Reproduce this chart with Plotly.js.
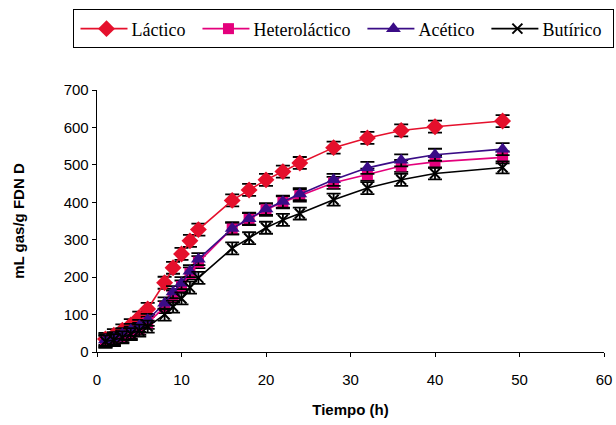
<!DOCTYPE html>
<html><head><meta charset="utf-8">
<script src="https://cdn.plot.ly/plotly-3.0.1.min.js"></script>
<style>body{margin:0;padding:0;background:#fff}#chart{width:616px;height:425px}</style>
</head><body><div id="chart"></div>
<script>
const tiempo = [1, 2, 3, 4, 5, 6, 8, 9, 10, 11, 12, 16, 18, 20, 22, 24, 28, 32, 36, 40, 48];
const lactico = [35, 45, 58, 72, 92, 115, 185, 225, 262, 297, 327, 405, 433, 460, 482, 505, 546, 572, 592, 602, 617];
const heterolactico = [28, 33, 42, 52, 62, 78, 120, 148, 175, 210, 240, 330, 355, 380, 400, 418, 452, 474, 497, 508, 520];
const acetico = [32, 37, 48, 59, 70, 86, 130, 160, 184, 216, 248, 330, 356, 382, 402, 422, 460, 492, 512, 527, 542];
const butirico = [28, 32, 39, 48, 57, 68, 100, 121, 143, 172, 198, 277, 304, 332, 353, 370, 407, 438, 460, 477, 493];
const errorSD = 16;
const names = ["Láctico", "Heterol\u00e1ctico", "Acético", "Butírico"];

const colors = ["#E5102C", "#E4007C", "#3A0C86", "#000000"];
const symbols = ["diamond", "square", "triangle-up", "x-thin-open"];
const sizes = [13, 11, 13, 10];
const series = [lactico, heterolactico, acetico, butirico];

const traces = series.map((ys, i) => ({
  x: tiempo, y: ys, name: names[i], type: "scatter", mode: "lines+markers",
  line: {color: colors[i], width: 1.6},
  marker: {symbol: symbols[i], size: sizes[i], color: colors[i],
           line: {color: colors[i], width: i === 3 ? 2 : 0}},
  error_y: {type: "constant", value: errorSD, color: "#000", thickness: 1.8, width: 7}
}));

const axisBase = {showgrid: false, zeroline: false, showline: true, linecolor: "#000",
                  linewidth: 1.3, tickcolor: "#000", ticklabeloverflow: "allow"};
const layout = {
  width: 616, height: 425,
  margin: {l: 97, r: 12, t: 90, b: 73},
  paper_bgcolor: "#fff", plot_bgcolor: "#fff",
  font: {family: "Liberation Sans, Arial, sans-serif", color: "#000", size: 15},
  showlegend: true,
  legend: {orientation: "h", x: 0.1185, xanchor: "left", y: 0.886, yanchor: "bottom",
           xref: "container", yref: "container",
           bordercolor: "#000", borderwidth: 1,
           font: {family: "Liberation Serif, Times New Roman, serif", size: 18, color: "#000"},
           itemwidth: 40, tracegroupgap: 0},
  xaxis: Object.assign({}, axisBase, {range: [0, 60], dtick: 10, tick0: 0,
          ticks: "outside", ticklen: 4, ticklabelstandoff: 10,
          tickfont: {size: 15}, title: {text: "<b>Tiempo (h)</b>", font: {size: 15}, standoff: 17}}),
  yaxis: Object.assign({}, axisBase, {range: [0, 700], dtick: 100,
          ticks: "outside", ticklen: 4,
          tickfont: {size: 15}, title: {text: "<b>mL gas/g FDN D</b>", font: {size: 15}, standoff: 35}}),
  xaxis2: {overlaying: "x", matches: "x", range: [0, 60], dtick: 10, ticks: "inside", ticklen: 4,
           tickcolor: "#000", showticklabels: false, showgrid: false, zeroline: false, showline: false, anchor: "y"},
  yaxis2: {overlaying: "y", matches: "y", range: [0, 700], dtick: 100, ticks: "inside", ticklen: 4,
           tickcolor: "#000", showticklabels: false, showgrid: false, zeroline: false, showline: false, anchor: "x"}
};
Plotly.newPlot("chart", traces, layout, {staticPlot: true}).then(gd => {
  const leg = gd.querySelector(".legend");
  if (!leg) return;
  leg.querySelectorAll("[clip-path]").forEach(e => e.removeAttribute("clip-path"));
  leg.querySelectorAll(".legendlines path").forEach(p => p.setAttribute("d", "M-1,0h47"));
  const bg = leg.querySelector("rect.bg");
  const bgLeft = bg.getBoundingClientRect().left;
  let cur = bgLeft + 7;
  let lastRight = cur;
  leg.querySelectorAll(".traces").forEach(g => {
    const line = g.querySelector(".legendlines path");
    const text = g.querySelector("text.legendtext");
    const m = /translate\(([-\d.]+)[ ,]+([-\d.]+)\)/.exec(g.getAttribute("transform") || "");
    if (!m || !line || !text) return;
    const dx = cur - line.getBoundingClientRect().left;
    g.setAttribute("transform", "translate(" + (parseFloat(m[1]) + dx) + "," + m[2] + ")");
    lastRight = text.getBoundingClientRect().right;
    cur = lastRight + 17;
  });
  bg.setAttribute("width", (lastRight + 12 - bgLeft).toFixed(1));
});
</script></body></html>
